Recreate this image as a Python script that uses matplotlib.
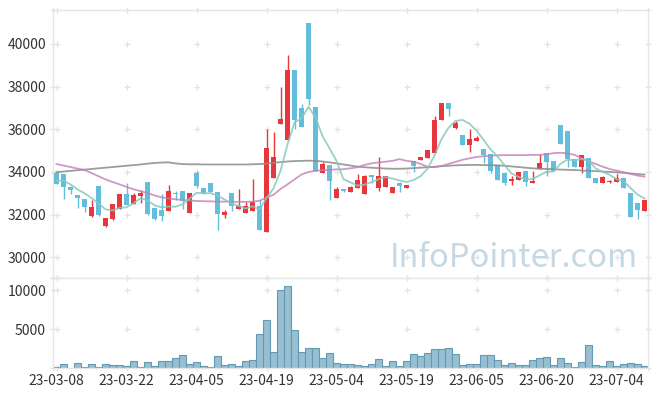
import matplotlib
matplotlib.use("Agg")
import matplotlib.pyplot as plt
import numpy as np
import pandas as pd

plt.rcParams["font.family"] = ["Noto Sans CJK KR", "DejaVu Sans"]
plt.rcParams["axes.unicode_minus"] = False

# 거래일 (KRX 휴장일 제외)
krx_holidays = ["2023-05-01", "2023-05-05", "2023-05-29", "2023-06-06"]
dates = pd.bdate_range("2023-03-08", "2023-07-10", freq="C", holidays=krx_holidays)

opens = [33970, 33900, 33300, 32910, 32720, 31920, 33340, 31480, 31810, 32280,
         32970, 32490, 32890, 33530, 32300, 32220, 32170, 33030, 33110, 32080,
         33970, 33230, 33480, 33060, 32000, 33010, 32280, 32090, 32180, 32410,
         31200, 33730, 36260, 35490, 38780, 37010, 41000, 37050, 33970, 34330,
         32790, 33200, 33080, 33270, 32980, 33840, 33260, 33310, 33030, 33500,
         33260, 34520, 34580, 34670, 34900, 36450, 37220, 36080, 35730, 35280,
         35470, 35080, 34830, 34330, 33970, 33560, 33640, 34050, 33500, 34140,
         34900, 34520, 36200, 35920, 34590, 34250, 34640, 33700, 33500, 33520,
         33540, 33700, 33010, 32550, 32190]
highs = [33990, 33920, 33320, 32920, 32730, 32690, 33360, 31830, 32490, 32970,
         33470, 33000, 33160, 33540, 32310, 32980, 33400, 33130, 33120, 33020,
         34050, 33240, 33490, 33070, 32220, 33020, 33190, 32590, 33660, 32680,
         36020, 35860, 37970, 39480, 38790, 37190, 41000, 37060, 34460, 34340,
         33290, 33210, 33340, 33890, 33870, 33850, 34690, 33820, 33290, 33510,
         33400, 34530, 34710, 35040, 36620, 37230, 37230, 36390, 35740, 36030,
         35670, 35090, 34840, 34340, 33980, 33810, 34010, 34060, 34050, 34820,
         34910, 34530, 36210, 35930, 34600, 34800, 34650, 33710, 33790, 33600,
         33900, 33710, 33020, 32560, 32690]
lows = [33420, 32720, 32950, 32300, 32120, 31900, 31950, 31430, 31760, 32260,
        32450, 32480, 32530, 32000, 31750, 31720, 32160, 32690, 32260, 32060,
        33230, 32990, 33040, 31280, 31830, 32170, 32270, 32080, 32170, 31290,
        31190, 33720, 36250, 35480, 36000, 36120, 37140, 34050, 33960, 32690,
        32780, 33060, 33070, 33260, 32970, 33500, 33110, 33300, 33020, 33080,
        33250, 33990, 34570, 34660, 34890, 36440, 36620, 36010, 35270, 34920,
        35460, 34410, 33970, 33620, 33380, 33380, 33630, 33360, 33490, 34130,
        33810, 34040, 35320, 34250, 34250, 33970, 33700, 33500, 33490, 33500,
        33530, 33260, 31900, 31780, 32180]
closes = [33440, 33280, 33170, 32790, 32340, 32340, 31970, 31830, 32490, 32970,
          32450, 32920, 33000, 32020, 31800, 31950, 33110, 32980, 32630, 33010,
          33360, 33000, 33050, 32020, 32130, 32420, 32420, 32410, 32590, 31290,
          35140, 34720, 36500, 38780, 36440, 36120, 37410, 34050, 34390, 33580,
          33190, 33110, 33280, 33640, 33800, 33750, 33810, 33810, 33280, 33340,
          33390, 34290, 34700, 35030, 36440, 37220, 36970, 36300, 35280, 35550,
          35610, 34810, 34060, 33620, 33500, 33660, 34000, 33530, 33590, 34440,
          34480, 34040, 35330, 34590, 34250, 34800, 33700, 33500, 33780, 33590,
          33730, 33260, 31900, 32220, 32690]
volumes = [150, 540, 40, 670, 150, 540, 150, 540, 330, 410,
           280, 930, 150, 800, 280, 930, 930, 1320, 1710, 540,
           800, 280, 150, 1580, 410, 540, 280, 930, 1060, 4440,
           6130, 2100, 10020, 10540, 4960, 2100, 2620, 2620, 1320, 1970,
           670, 540, 540, 410, 280, 540, 1190, 280, 930, 280,
           930, 1840, 1580, 1970, 2490, 2490, 2620, 1840, 410, 540,
           540, 1710, 1710, 1060, 410, 670, 410, 410, 1060, 1320,
           1450, 410, 1320, 670, 150, 800, 3010, 410, 280, 930,
           280, 540, 670, 540, 280]

# 이동평균선
ma5 = [33600, 33590, 33420, 33180, 33000, 32780, 32520, 32250, 32190, 32320,
       32340, 32530, 32770, 32670, 32440, 32340, 32380, 32370, 32490, 32740,
       33020, 33000, 33010, 32890, 32710, 32520, 32410, 32280, 32390, 32230,
       32770, 33230, 34050, 35290, 36320, 36510, 37050, 36560, 35680, 35110,
       34520, 33660, 33510, 33360, 33400, 33520, 33660, 33760, 33690, 33600,
       33530, 33620, 33800, 34150, 34770, 35540, 36070, 36390, 36440, 36260,
       35940, 35510, 35060, 34730, 34320, 33930, 33770, 33660, 33660, 33840,
       34010, 34020, 34380, 34580, 34540, 34600, 34530, 34170, 34010, 33870,
       33660, 33570, 33250, 32940, 32760]
ma20 = [34370, 34300, 34230, 34160, 34090, 33950, 33800, 33650, 33530, 33420,
        33300, 33190, 33100, 33010, 32900, 32810, 32760, 32720, 32690, 32660,
        32640, 32630, 32620, 32610, 32610, 32600, 32600, 32600, 32610, 32650,
        32800, 32930, 33200, 33420, 33650, 33880, 34000, 34050, 34080, 34100,
        34120, 34130, 34170, 34220, 34330, 34400, 34450, 34480, 34520, 34600,
        34520, 34480, 34380, 34240, 34230, 34280, 34380, 34470, 34570, 34640,
        34700, 34740, 34760, 34780, 34790, 34790, 34790, 34790, 34800, 34800,
        34830, 34880, 34900, 34870, 34800, 34650, 34500, 34380, 34250, 34140,
        34060, 33990, 33910, 33830, 33780]
ma60 = [33990, 34020, 34050, 34080, 34110, 34140, 34170, 34200, 34230, 34260,
        34290, 34320, 34350, 34390, 34420, 34440, 34450, 34400, 34370, 34360,
        34360, 34350, 34350, 34350, 34350, 34350, 34350, 34350, 34360, 34370,
        34390, 34430, 34460, 34490, 34510, 34520, 34530, 34520, 34490, 34450,
        34400, 34350, 34300, 34250, 34220, 34200, 34180, 34160, 34150, 34150,
        34160, 34180, 34200, 34220, 34240, 34270, 34290, 34310, 34320, 34330,
        34330, 34320, 34320, 34310, 34290, 34260, 34230, 34200, 34170, 34150,
        34140, 34130, 34110, 34100, 34090, 34070, 34050, 34040, 34020, 34000,
        33980, 33960, 33930, 33900, 33880]

UP = "#e8373c"
DOWN = "#62bedb"
GRID = "#e2e2e2"
SPINE = "#e6e6e6"


def style_axes(ax, yticks, ylim):
    n = len(closes)
    xticks = list(range(0, n, 10))
    ax.set_xlim(-0.5, n - 0.5)
    ax.set_ylim(*ylim)
    ax.set_yticks(yticks)
    ax.set_xticks(xticks)
    ax.tick_params(length=0, labelsize=10, labelcolor="#333333", pad=5)
    for sp in ax.spines.values():
        sp.set_color(SPINE)
        sp.set_linewidth(1.0)
    # 교차점에 작은 + 표시
    xs = xticks + [-0.5, n - 0.5]
    ys = list(yticks) + list(ylim)
    gx, gy = np.meshgrid(xs, ys)
    ax.plot(gx.ravel(), gy.ravel(), "+", ms=5, mew=0.9, color=GRID,
            clip_on=False, zorder=0)


fig = plt.figure(figsize=(6.57, 3.96), dpi=100)
ax = fig.add_axes([53 / 657, 1 - 278 / 396, 595 / 657, 268 / 396])
axv = fig.add_axes([53 / 657, 1 - 368 / 396, 595 / 657, 90 / 396])

x = np.arange(len(closes))
o = np.array(opens)
c = np.array(closes)
colors = [UP if ci >= oi else DOWN for oi, ci in zip(o, c)]

ax.vlines(x, lows, highs, colors=colors, linewidth=1.0, zorder=2)
body_low = np.minimum(o, c)
body_h = np.maximum(np.abs(c - o), 45)
ax.bar(x, body_h, bottom=body_low, width=0.66, color=colors, linewidth=0, zorder=3)

ax.plot(x, ma60, color="#8c8c8c", lw=1.3, alpha=0.85, zorder=4)
ax.plot(x, ma20, color="#c47fb8", lw=1.3, alpha=0.8, zorder=4)
ax.plot(x, ma5, color="#86c9bd", lw=1.3, alpha=0.85, zorder=5)

ax.text(0.983, 0.041, "InfoPointer.com", transform=ax.transAxes, ha="right",
        va="baseline", fontsize=23.5, color="#c6d8e4", zorder=1)

style_axes(ax, range(30000, 40001, 2000), (29030, 41590))
ax.tick_params(labelbottom=False)

axv.bar(x, volumes, width=1.0, color="#97bfd1", edgecolor="#6499b4",
        linewidth=0.8, zorder=2)
style_axes(axv, [5000, 10000], (0, 11600))
axv.set_xticklabels([d.strftime("%y-%m-%d") for d in dates[::10]])
axv.tick_params(axis="x", pad=4)

fig.savefig("out.png", dpi=100)
plt.close(fig)
